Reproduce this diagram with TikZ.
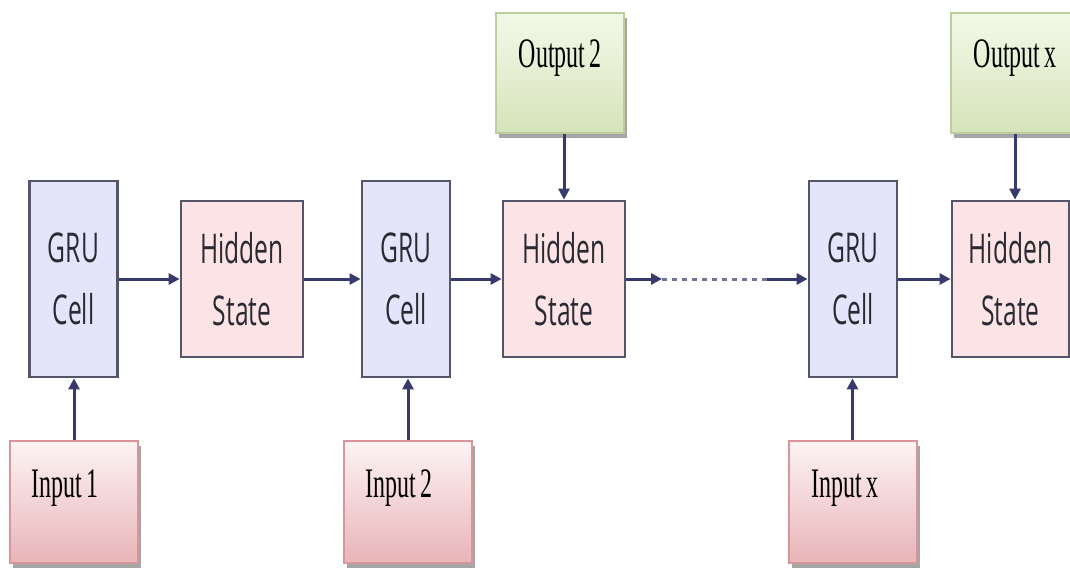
\documentclass[tikz,border=0pt]{standalone}
\usepackage{fontspec}
\usetikzlibrary{arrows.meta,shadows}
\newfontfamily\boxfont[FakeStretch=0.6]{Open Sans}
\newfontfamily\ioFont[FakeStretch=0.57,WordSpace=0.6]{Liberation Serif}
\definecolor{gruFill}{HTML}{E4E4FA}
\definecolor{hidFill}{HTML}{FCE3E5}
\definecolor{boxLine}{HTML}{55556A}
\definecolor{inTop}{HTML}{FDF4F4}
\definecolor{inBot}{HTML}{E8B4B8}
\definecolor{inLine}{HTML}{D8959B}
\definecolor{outTop}{HTML}{F4F8E8}
\definecolor{outBot}{HTML}{D6E4BA}
\definecolor{outLine}{HTML}{BCCD9E}
\definecolor{arrCol}{HTML}{363A6C}
\definecolor{txtCol}{HTML}{2A2A33}
\tikzset{
  cellbox/.style={draw=boxLine, line width=2.8pt, fill=gruFill, minimum width=88pt, minimum height=196pt,
    font=\boxfont\fontsize{41}{62}\selectfont, text=txtCol, align=center, inner sep=0pt},
  hidbox/.style={cellbox, fill=hidFill, minimum width=122pt, minimum height=156pt},
  iobox/.style={line width=2pt, minimum width=128pt, minimum height=122pt, inner sep=0pt,
    drop shadow={shadow xshift=3pt, shadow yshift=-5pt, fill=black, opacity=0.35}},
  inbox/.style={iobox, draw=inLine, top color=inTop, bottom color=inBot},
  outbox/.style={iobox, draw=outLine, top color=outTop, bottom color=outBot, minimum height=120pt},
  iotext/.style={font=\ioFont\fontsize{42}{50}\selectfont, text=black, inner sep=0pt},
  arr/.style={draw=arrCol, line width=3pt, -{Triangle[length=11pt,width=11pt]}},
  dotline/.style={draw=arrCol!70, line width=3pt, dash pattern=on 5pt off 5pt}
}
\begin{document}
\begin{tikzpicture}[x=1pt,y=-1pt]
\clip (0,0) rectangle (1070,568);
\fill[white] (0,0) rectangle (1070,568);
% cells
\node[cellbox] (gru1) at (73.5,279) {GRU\\Cell};
\node[hidbox]  (hid1) at (242,279) {Hidden\\State};
\node[cellbox] (gru2) at (406,279) {GRU\\Cell};
\node[hidbox]  (hid2) at (564,279) {Hidden\\State};
\node[cellbox] (gru3) at (853,279) {GRU\\Cell};
\node[hidbox, minimum width=117pt] (hid3) at (1010.5,279) {Hidden\\State};
% inputs
\node[inbox] (in1) at (74,502) {};
\node[inbox] (in2) at (408,502) {};
\node[inbox] (in3) at (852.5,502) {};
\node[iotext] (tin1) at (65,488) {Input 1};
\node[iotext] (tin2) at (399,488) {Input 2};
\node[iotext] (tin3) at (845,488) {Input x};
% outputs
\node[outbox] (out2) at (560,73) {};
\node[outbox] (out3) at (1015,73) {};
\node[iotext] (tout2) at (560,58) {Output 2};
\node[iotext] (tout3) at (1015,58) {Output x};
% connectors
\draw[arr] (gru1.east) -- (hid1.west);
\draw[arr] (hid1.east) -- (gru2.west);
\draw[arr] (gru2.east) -- (hid2.west);
\coordinate (d1) at (662,279);
\coordinate (d2) at (767,279);
\draw[arr] (hid2.east) -- (d1);
\draw[dotline] (d1) -- (d2);
\draw[arr] (d2) -- (gru3.west);
\draw[arr] (gru3.east) -- (hid3.west);
\draw[arr] (in1.north) -- (in1.north |- gru1.south);
\draw[arr] (in2.north) -- (in2.north |- gru2.south);
\draw[arr] (in3.north) -- (in3.north |- gru3.south);
\draw[arr] (out2.south -| hid2) -- (hid2.north);
\draw[arr] (out3.south) -- (out3.south |- hid3.north);
\end{tikzpicture}
\end{document}
